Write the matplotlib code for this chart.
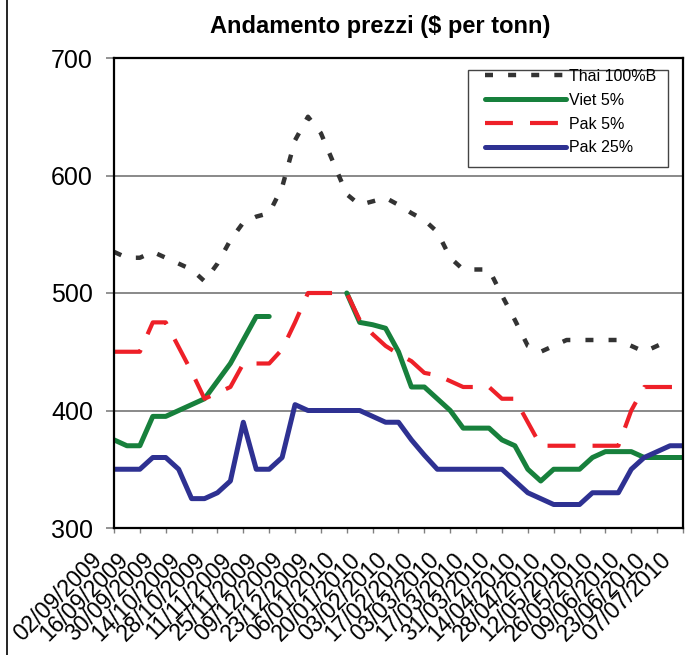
import numpy as np
import matplotlib
matplotlib.use("Agg")
import matplotlib.pyplot as plt
from matplotlib.lines import Line2D
from matplotlib.patches import Rectangle
from matplotlib.transforms import ScaledTranslation

plt.rcParams['font.family'] = ['Liberation Sans', 'DejaVu Sans']

# weekly quotes, 02/09/2009 -> 07/07/2010 (45 weeks)
nan = np.nan
thai_100b = [535, 530, 530, 535, 530, 525, 520, 510, 525, 545, 560, 565, 568, 590, 630,
             650, 636, 610, 584, 575, 578, 581, 575, 568, 562, 552, 530, 520, 520, 520,
             498, 477, 455, 450, 455, 460, 460, 460, 460, 460, 455, 450, 455, 460, nan]
viet_5 = [375, 370, 370, 395, 395, 400, 405, 410, 425, 440, 460, 480, 480, nan, nan,
          nan, nan, nan, 500, 475, 473, 470, 450, 420, 420, 410, 400, 385, 385, 385,
          375, 370, 350, 340, 350, 350, 350, 360, 365, 365, 365, 360, 360, 360, 360]
pak_5 = [450, 450, 450, 475, 475, 454, 433, 410, 415, 420, 440, 440, 440, 452, 475,
         500, 500, 500, 500, 477, 465, 455, 448, 442, 432, 430, 425, 420, 420, 420,
         410, 410, 390, 370, 370, 370, 370, 370, 370, 370, 400, 420, 420, 420, 420]
pak_25 = [350, 350, 350, 360, 360, 350, 325, 325, 330, 340, 390, 350, 350, 360, 405,
          400, 400, 400, 400, 400, 395, 390, 390, 375, 362, 350, 350, 350, 350, 350,
          350, 340, 330, 325, 320, 320, 320, 330, 330, 330, 350, 360, 365, 370, 370]

date_labels = ["02/09/2009", "16/09/2009", "30/09/2009", "14/10/2009", "28/10/2009",
               "11/11/2009", "25/11/2009", "09/12/2009", "23/12/2009", "06/01/2010",
               "20/01/2010", "03/02/2010", "17/02/2010", "03/03/2010", "17/03/2010",
               "31/03/2010", "14/04/2010", "28/04/2010", "12/05/2010", "26/05/2010",
               "09/06/2010", "23/06/2010", "07/07/2010"]

W, H = 690, 655
fig = plt.figure(figsize=(W / 100, H / 100), dpi=100)
ax = fig.add_axes([114 / W, 1 - 528 / H, (683 - 114) / W, (528 - 58) / H])

x = np.arange(len(pak_25))

ax.plot(x, thai_100b, color='#333333', lw=3.2, dashes=(1.8, 3.4), label='Thai 100%B')
ax.plot(x, viet_5, color='#17803c', lw=3.6, solid_capstyle='round',
        solid_joinstyle='round', label='Viet 5%')
ax.plot(x, pak_5, color='#ee2028', lw=3, dashes=(6.7, 4.1), label='Pak 5%')
ax.plot(x, pak_25, color='#2e3192', lw=3.6, solid_capstyle='round',
        solid_joinstyle='round', label='Pak 25%')

ax.set_xlim(0, len(x) - 1)
ax.set_ylim(300, 700)
ax.set_yticks([300, 400, 500, 600, 700])
ax.yaxis.grid(True, color='#808080', lw=1.3)
ax.set_axisbelow(True)
ax.tick_params(axis='y', labelsize=18, length=5.8, width=1.2, color='#808080', pad=9.4)

ax.set_xticks(x[::2])
ax.set_xticklabels(date_labels, rotation=45, ha='right', va='top', fontsize=16.5)
ax.tick_params(axis='x', length=3.6, width=1, color='#808080', pad=11)
for lab in ax.get_xticklabels():
    lab.set_transform(lab.get_transform() + ScaledTranslation(-0.07, 0, fig.dpi_scale_trans))

for s in ax.spines.values():
    s.set_color('black')
    s.set_linewidth(1.6)

fig.text(380 / W, 1 - 27 / H, 'Andamento prezzi ($ per tonn)', fontsize=17,
         fontweight='bold', ha='center', va='center')

# legend box like the spreadsheet one
fig.add_artist(Rectangle((468 / W, 1 - 167 / H), 200 / W, 97 / H, transform=fig.transFigure,
                         facecolor='white', edgecolor='#444444', lw=1, zorder=4))
handles, labels = ax.get_legend_handles_labels()
fig.legend(handles, labels, loc='upper left', bbox_to_anchor=(485 / W, 1 - 69 / H),
           bbox_transform=fig.transFigure, borderaxespad=0, borderpad=0, fontsize=11.5,
           frameon=False, handlelength=5.1, handletextpad=0.15, labelspacing=0.55)

fig.add_artist(Line2D([7 / W, 7 / W], [0, 1], color='black', lw=1.2,
                      transform=fig.transFigure))

fig.savefig('out.png', dpi=100)
